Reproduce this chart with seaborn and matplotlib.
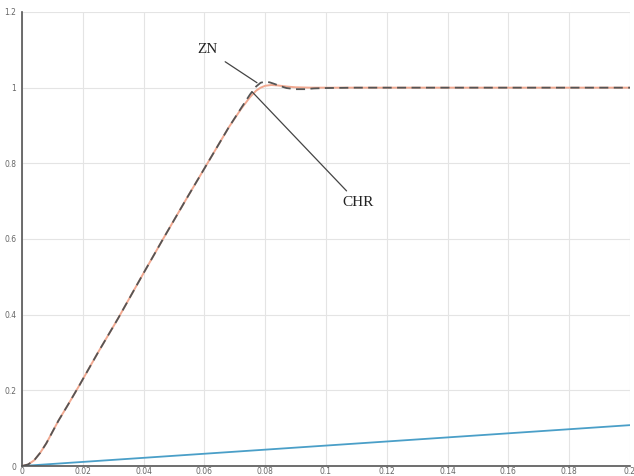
import matplotlib
matplotlib.use("Agg")
import matplotlib.pyplot as plt
import seaborn as sns
import pandas as pd

# Step responses of the PID loop tuned with Ziegler-Nichols (ZN) and Chien-Hrones-Reswick (CHR)
t_zn = [0.0, 0.002, 0.004, 0.006, 0.008, 0.010, 0.012, 0.015, 0.019, 0.025, 0.0316,
        0.040, 0.0464, 0.054, 0.061, 0.068, 0.072, 0.075, 0.077, 0.0785, 0.080,
        0.0815, 0.083, 0.085, 0.087, 0.090, 0.093, 0.096, 0.100, 0.110, 0.130,
        0.160, 0.200]
y_zn = [0.0, 0.004, 0.015, 0.035, 0.06, 0.09, 0.12, 0.16, 0.215, 0.30, 0.39,
        0.51, 0.60, 0.705, 0.80, 0.895, 0.945, 0.982, 1.003, 1.013, 1.016,
        1.014, 1.010, 1.004, 0.999, 0.996, 0.996, 0.998, 0.999, 1.0, 1.0,
        1.0, 1.0]

t_chr = [0.0, 0.002, 0.004, 0.006, 0.008, 0.010, 0.012, 0.015, 0.019, 0.025, 0.0316,
         0.040, 0.0464, 0.054, 0.061, 0.068, 0.072, 0.075, 0.077, 0.0785, 0.080,
         0.082, 0.084, 0.087, 0.090, 0.095, 0.100, 0.130, 0.160, 0.200]
y_chr = [0.0, 0.004, 0.015, 0.035, 0.06, 0.09, 0.12, 0.16, 0.215, 0.30, 0.39,
         0.51, 0.60, 0.705, 0.80, 0.895, 0.943, 0.975, 0.992, 1.000, 1.005,
         1.007, 1.006, 1.003, 1.001, 1.0, 1.0, 1.0, 1.0, 1.0]

# Slow reference response without the controller
t_ref = [0.0, 0.200]
y_ref = [0.0, 0.108]

x_ticks = [0, 0.02, 0.04, 0.06, 0.08, 0.1, 0.12, 0.14, 0.16, 0.18, 0.2]
x_tick_labels = ["0", "0.02", "0.04", "0.06", "0.08", "0.1", "0.12", "0.14", "0.16", "0.18", "0.2"]
y_ticks = [0, 0.2, 0.4, 0.6, 0.8, 1.0, 1.2]
y_tick_labels = ["0", "0.2", "0.4", "0.6", "0.8", "1", "1.2"]

df_zn = pd.DataFrame({"t": t_zn, "y": y_zn})
df_chr = pd.DataFrame({"t": t_chr, "y": y_chr})
df_ref = pd.DataFrame({"t": t_ref, "y": y_ref})

sns.set_style("white")
fig = plt.figure(figsize=(6.34, 4.76), dpi=100)
ax = fig.add_axes([22 / 634, 10 / 476, 608 / 634, 454 / 476])

sns.lineplot(data=df_ref, x="t", y="y", ax=ax, color="#4a9fc8", linewidth=1.3)
sns.lineplot(data=df_chr, x="t", y="y", ax=ax, color="#f0a890", linewidth=1.4)
sns.lineplot(data=df_zn, x="t", y="y", ax=ax, color="#555555", linewidth=1.3,
             linestyle=(0, (5, 3)))

ax.set_xlim(0, 0.2)
ax.set_ylim(0, 1.2)
ax.set_xticks(x_ticks)
ax.set_xticklabels(x_tick_labels)
ax.set_yticks(y_ticks)
ax.set_yticklabels(y_tick_labels)
ax.set_xlabel("")
ax.set_ylabel("")

ax.grid(True, color="#e4e4e4", linewidth=0.8)
ax.set_axisbelow(True)
for side in ("top", "right"):
    ax.spines[side].set_visible(False)
for side in ("left", "bottom"):
    ax.spines[side].set_color("#555555")
    ax.spines[side].set_linewidth(1.2)
ax.tick_params(axis="both", direction="in", length=4, width=1.0, color="#555555",
               labelsize=5.5, labelcolor="#666666", pad=1)
ax.tick_params(axis="y", pad=4)

# Callouts for the two tuning methods
serif = ["Liberation Serif", "DejaVu Serif"]
ax.annotate("ZN", xy=(0.0773, 1.013), xytext=(0.0609, 1.100),
            fontsize=11, family=serif, color="#222222", ha="center", va="center",
            arrowprops=dict(arrowstyle="-", color="#444444", lw=0.9,
                            shrinkA=4, shrinkB=0))
ax.annotate("CHR", xy=(0.0757, 0.989), xytext=(0.1053, 0.696),
            fontsize=11, family=serif, color="#222222", ha="left", va="center",
            arrowprops=dict(arrowstyle="-", color="#444444", lw=0.9,
                            shrinkA=2, shrinkB=0))

fig.savefig("out.png", dpi=100)
